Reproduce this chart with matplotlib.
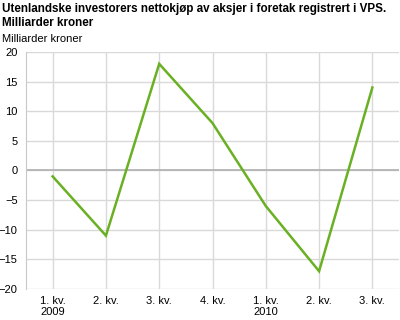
import matplotlib
matplotlib.use("Agg")
import matplotlib.pyplot as plt

plt.rcParams['font.family'] = ['Liberation Sans', 'DejaVu Sans']

quarters = ["1. kv.\n2009", "2. kv.", "3. kv.", "4. kv.", "1. kv.\n2010", "2. kv.", "3. kv."]
values = [-1, -11, 18, 8, -6, -17, 14]
y_ticks = [-20, -15, -10, -5, 0, 5, 10, 15, 20]

fig = plt.figure(figsize=(4, 3.2), dpi=100)
ax = fig.add_axes([0.065, 0.097, 0.9325, 0.7405])

x = range(len(values))
ax.plot(x, values, color="#6ab023", lw=1.8, zorder=3, solid_joinstyle="miter")

ax.set_xlim(-0.5, len(values) - 0.5)
ax.set_ylim(-20, 20)
ax.set_yticks(y_ticks)
ax.set_xticks(list(x))
ax.set_xticklabels(quarters, fontsize=8, linespacing=1.1)
ax.tick_params(axis="y", labelsize=8, length=0, pad=6)
ax.tick_params(axis="x", length=0, pad=5)

ax.grid(True, color="#d9d9d9", lw=1)
ax.axhline(0, color="#b0b0b0", lw=1.2, zorder=2)
for s in ["top", "right", "bottom"]:
    ax.spines[s].set_visible(False)
ax.spines["left"].set_color("#c8c8c8")

fig.text(0.005, 0.99, "Utenlandske investorers nettokjøp av aksjer i foretak registrert i VPS.\nMilliarder kroner",
         fontsize=8.4, fontweight="bold", va="top", ha="left", linespacing=1.2)
fig.text(0.005, 0.862, "Milliarder kroner", fontsize=8, va="bottom", ha="left")

fig.savefig("out.png", dpi=100)
